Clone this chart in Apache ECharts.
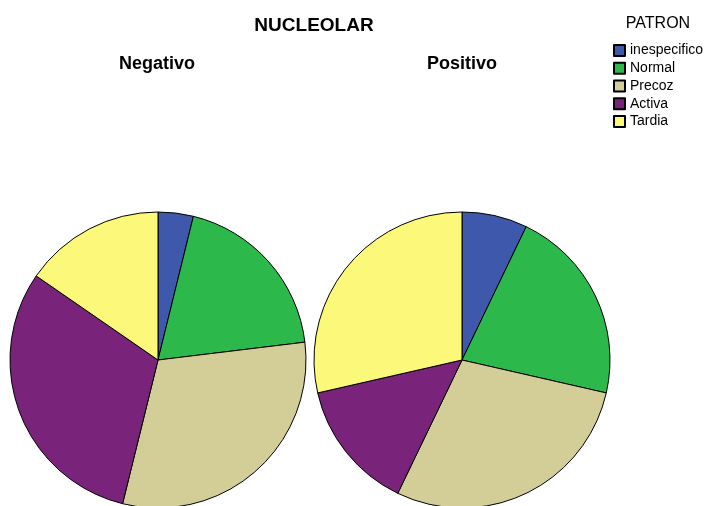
<!DOCTYPE html>
<html>
<head>
<meta charset="utf-8">
<script src="https://cdn.jsdelivr.net/npm/echarts@6/dist/echarts.min.js"></script>
<style>
  html, body { margin: 0; padding: 0; background: #fff; }
  #chart { width: 707px; height: 506px; }
</style>
</head>
<body>
<div id="chart"></div>
<script>
// PATRON categories and case counts per NUCLEOLAR group
const categories = ['inespecifico', 'Normal', 'Precoz', 'Activa', 'Tardia'];
const negativoCounts = [1, 5, 8, 8, 4];
const positivoCounts = [1, 3, 4, 2, 4];
const groupNames = ['Negativo', 'Positivo'];
const colors = ['#3e58ac', '#2db84b', '#d3ce97', '#79237a', '#fbf87a'];

const FONT = '"Liberation Sans", Arial, sans-serif';

function pieData(counts) {
  return categories.map((name, i) => ({
    name: name,
    value: counts[i],
    itemStyle: { color: colors[i] }
  }));
}

function pieSeries(name, counts, cx) {
  return {
    type: 'pie',
    name: name,
    center: [cx, 360],
    radius: 148,
    startAngle: 90,
    clockwise: true,
    label: { show: false },
    labelLine: { show: false },
    emphasis: { disabled: true },
    itemStyle: { borderColor: '#000', borderWidth: 1 },
    data: pieData(counts)
  };
}

const chart = echarts.init(document.getElementById('chart'), null, { renderer: 'canvas' });
chart.setOption({
  animation: false,
  backgroundColor: '#ffffff',
  title: [
    { text: 'NUCLEOLAR', left: 314, top: 16, textAlign: 'center', padding: 0,
      textStyle: { fontFamily: FONT, fontSize: 19, fontWeight: 'bold', color: '#000' } },
    { text: groupNames[0], left: 157, top: 55, textAlign: 'center', padding: 0,
      textStyle: { fontFamily: FONT, fontSize: 18, fontWeight: 'bold', color: '#000' } },
    { text: groupNames[1], left: 462, top: 55, textAlign: 'center', padding: 0,
      textStyle: { fontFamily: FONT, fontSize: 18, fontWeight: 'bold', color: '#000' } },
    { text: 'PATRON', left: 658, top: 16, textAlign: 'center', padding: 0,
      textStyle: { fontFamily: FONT, fontSize: 16, fontWeight: 'normal', color: '#000' } }
  ],
  legend: {
    orient: 'vertical',
    left: 613,
    top: 43.5,
    padding: 0,
    itemWidth: 11,
    itemHeight: 11,
    itemGap: 3.75,
    icon: 'rect',
    selectedMode: false,
    data: categories,
    textStyle: { fontFamily: FONT, fontSize: 14, color: '#000', lineHeight: 14 }
  },
  series: [
    pieSeries(groupNames[0], negativoCounts, 158),
    pieSeries(groupNames[1], positivoCounts, 462)
  ]
});
</script>
</body>
</html>
